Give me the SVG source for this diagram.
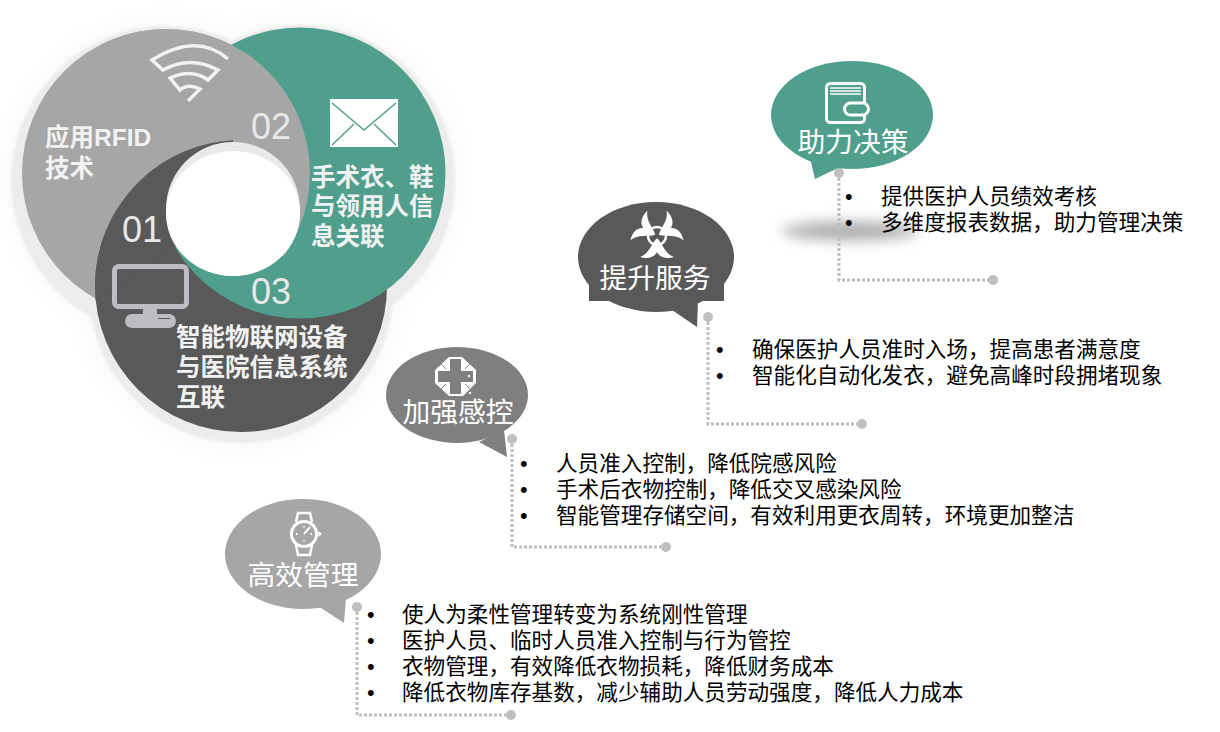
<svg xmlns="http://www.w3.org/2000/svg" width="1220" height="732" viewBox="0 0 1220 732">
<style>
text{font-family:"Liberation Sans","Noto Sans CJK SC",sans-serif}
.bullet{font-size:21.6px;fill:#000}
.bub{font-size:27.800px;fill:#fff;text-anchor:middle}
.bold{font-size:24.500px;font-weight:700;fill:#f2f2f2}
.num{font-size:36px;fill:#e8e8e8}
.dot{fill:#bfbfbf}
.line{fill:none;stroke:#bfbfbf;stroke-width:3;stroke-dasharray:3 2}
.green{fill:#4f9f8c}.dark{fill:#595959}.gray{fill:#a6a6a6}.mid{fill:#7f7f7f}
</style>
<defs>
<filter id="b1" x="-20%" y="-20%" width="140%" height="140%"><feGaussianBlur stdDeviation="1"/></filter>
<filter id="b12" x="-30%" y="-30%" width="160%" height="160%"><feGaussianBlur stdDeviation="10"/></filter>
<filter id="b8" x="-30%" y="-100%" width="160%" height="300%"><feGaussianBlur stdDeviation="7"/></filter>
<clipPath id="cGray"><polygon points="100,208 233,208 358,330 460,330 460,0 100,0"/></clipPath>
<clipPath id="cDark"><polygon points="233,208 233,100 50,100 50,331"/></clipPath>
</defs>
<g id="venn">
<g fill="#f8f8f8" filter="url(#b12)">
<circle cx="166" cy="178" r="160"/>
<circle cx="300" cy="178" r="160"/>
<circle cx="241" cy="290" r="160"/>
</g>
<g fill="#ececec" filter="url(#b1)">
<circle cx="166" cy="181" r="155"/>
<circle cx="300" cy="180" r="155"/>
<circle cx="241" cy="291" r="152"/>
</g>
<circle class="gray" cx="166" cy="173" r="144"/>
<circle class="dark" cx="241" cy="286" r="146"/>
<circle class="green" cx="300" cy="173" r="145.5"/>
<circle class="gray" cx="166" cy="173" r="144" clip-path="url(#cGray)"/>
<circle class="dark" cx="241" cy="286" r="146" clip-path="url(#cDark)"/>
<circle cx="233" cy="209" r="67" fill="#e9e9e9"/>
<ellipse cx="233" cy="213.500" rx="67" ry="62.500" fill="#fff"/>
</g>
<g id="node-rfid">
<path d="M228,59 Q197,32 152,60 L163,70 Q190,55 218,70 L208,80 Q192,68 170,78 L180,90 Q188,83 200,89 L188,101" fill="none" stroke="#f2f2f2" stroke-width="3.500"/>
<text class="bold" x="45" y="146">应用RFID</text>
<text class="bold" x="45" y="177">技术</text>
<text class="num" x="251" y="139">02</text>
</g>
<g id="node-link">
<rect x="330" y="99" width="68" height="48" fill="#fff"/>
<path d="M332,103 L364,130 L396,103 M332,145 L354,124 M396,145 L374,124" fill="none" stroke="#4f9f8c" stroke-width="1.500"/>
<text class="bold" x="311" y="186">手术衣、鞋</text>
<text class="bold" x="311" y="215">与领用人信</text>
<text class="bold" x="311" y="245">息关联</text>
<text class="num" x="251" y="304">03</text>
</g>
<g id="node-iot">
<rect x="114.500" y="266.500" width="72" height="40" rx="4" fill="none" stroke="#bcbcc2" stroke-width="5"/>
<rect x="143" y="308" width="14" height="7" fill="#bcbcc2"/>
<rect x="125" y="314" width="51" height="14" rx="7" fill="#bcbcc2"/>
<path d="M158,318.500 H170" stroke="#595959" stroke-width="1"/>
<text class="bold" x="176" y="346">智能物联网设备</text>
<text class="bold" x="176" y="376">与医院信息系统</text>
<text class="bold" x="176" y="406">互联</text>
<text class="num" x="122" y="242">01</text>
</g>
<ellipse id="shadow" cx="850" cy="231" rx="68" ry="9" fill="#a8a8a8" filter="url(#b8)"/>
<g id="connectors">
<path class="line" d="M839,173 V280 H993"/>
<path class="line" d="M708,317 V424 H862"/>
<path class="line" d="M512,439 V547 H666"/>
<path class="line" d="M357,607 V715 H511"/>
<circle class="dot" cx="839" cy="173" r="5"/><circle class="dot" cx="993" cy="280" r="5"/>
<circle class="dot" cx="708" cy="317" r="5"/><circle class="dot" cx="862" cy="424" r="5"/>
<circle class="dot" cx="512" cy="439" r="5"/><circle class="dot" cx="666" cy="547" r="5"/>
<circle class="dot" cx="357" cy="607" r="5"/><circle class="dot" cx="511" cy="715" r="5"/>
</g>
<g id="node-decision">
<ellipse class="green" cx="852" cy="115" rx="81" ry="54"/>
<path class="green" d="M810,158 L815,179 L838,168Z"/>
<g fill="none" stroke="#fff" stroke-width="3">
<rect x="826.500" y="83.500" width="38" height="39" rx="4"/>
<path d="M830,88 H861 M830,91 H861 M830,94 H861" stroke-width="1.500"/>
<rect x="844.500" y="103" width="24" height="12" rx="6" fill="#4f9f8c"/>
</g>
<text class="bub" x="853" y="152">助力决策</text>
<text class="bullet" x="845" y="204">•</text><text class="bullet" x="881" y="204">提供医护人员绩效考核</text>
<text class="bullet" x="845" y="230">•</text><text class="bullet" x="881" y="230">多维度报表数据，助力管理决策</text>
</g>
<g id="node-service">
<ellipse class="dark" cx="656" cy="257" rx="78" ry="55"/>
<rect class="dark" x="589" y="270" width="135" height="31"/>
<path class="dark" d="M672,310 L697,327 L698,300Z"/>
<g transform="translate(657,236)" fill="#fff">
<path d="M0,2 C-6,8 -7,17 -17,21 C-10,23 -3,22 0,16 C3,22 10,23 17,21 C7,17 6,8 0,2Z"/>
<path transform="rotate(120)" d="M0,2 C-6,8 -7,17 -17,21 C-10,23 -3,22 0,16 C3,22 10,23 17,21 C7,17 6,8 0,2Z"/>
<path transform="rotate(240)" d="M0,2 C-6,8 -7,17 -17,21 C-10,23 -3,22 0,16 C3,22 10,23 17,21 C7,17 6,8 0,2Z"/>
<circle r="9" fill="none" stroke="#fff" stroke-width="2.500"/>
<circle r="2.500" fill="#595959"/>
</g>
<text class="bub" x="655" y="288">提升服务</text>
<text class="bullet" x="716" y="357">•</text><text class="bullet" x="752" y="357">确保医护人员准时入场，提高患者满意度</text>
<text class="bullet" x="716" y="383">•</text><text class="bullet" x="752" y="383">智能化自动化发衣，避免高峰时段拥堵现象</text>
</g>
<g id="node-infection">
<ellipse class="mid" cx="457" cy="395" rx="71" ry="48"/>
<path class="mid" d="M479,442 L507,457 L504,430Z"/>
<polygon points="449,357 462,357 476,370 476,383 463,396 449,396 435,383 435,370" fill="#fff"/>
<path d="M450,359 H461 V371 H473 V382 H461 V394 H450 V382 H438 V371 H450Z" fill="#7f7f7f"/>
<path d="M441,364 L446,369 M470,364 L465,369 M441,389 L446,384 M470,389 L465,384" stroke="#7f7f7f" stroke-width="1" fill="none"/>
<circle cx="469" cy="376" r="1.200" fill="#fff"/>
<circle cx="470" cy="393" r="1.200" fill="#fff"/>
<text class="bub" x="458" y="422">加强感控</text>
<text class="bullet" x="520" y="471">•</text><text class="bullet" x="556" y="471">人员准入控制，降低院感风险</text>
<text class="bullet" x="520" y="497">•</text><text class="bullet" x="556" y="497">手术后衣物控制，降低交叉感染风险</text>
<text class="bullet" x="520" y="523">•</text><text class="bullet" x="556" y="523">智能管理存储空间，有效利用更衣周转，环境更加整洁</text>
</g>
<g id="node-efficiency">
<ellipse class="gray" cx="303" cy="554" rx="78" ry="55"/>
<path class="gray" d="M318,606 L344,623 L346,598Z"/>
<g fill="none" stroke="#fff" stroke-width="2.500">
<path d="M296,522 L298,513 H310 L312,522 M296,545 L298,555 H310 L312,545"/>
<circle cx="304" cy="534" r="12.500" stroke-width="3"/>
<path d="M304,534 L310,527" stroke-width="2"/>
<path d="M304,526 V527.500 M304,540 V541.500 M296,534 H297.500 M310.500,534 H312" stroke-width="1.800"/>
<path d="M318,532 L320.500,534 L318,536" stroke-width="2"/>
</g>
<text class="bub" x="303" y="585">高效管理</text>
<text class="bullet" x="367" y="622">•</text><text class="bullet" x="402" y="622">使人为柔性管理转变为系统刚性管理</text>
<text class="bullet" x="367" y="648">•</text><text class="bullet" x="402" y="648">医护人员、临时人员准入控制与行为管控</text>
<text class="bullet" x="367" y="674">•</text><text class="bullet" x="402" y="674">衣物管理，有效降低衣物损耗，降低财务成本</text>
<text class="bullet" x="367" y="700">•</text><text class="bullet" x="402" y="700">降低衣物库存基数，减少辅助人员劳动强度，降低人力成本</text>
</g>
</svg>
